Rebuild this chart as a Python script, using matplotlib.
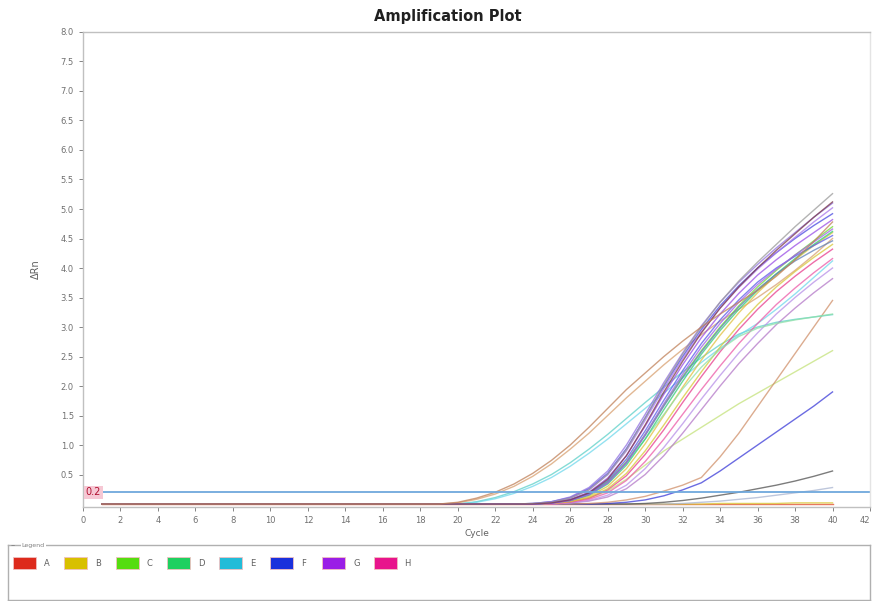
import matplotlib.pyplot as plt
from matplotlib.patches import Rectangle

# cycles 1..19 are flat for every well; curves below hold cycles 20..40
baseline = [0.0, 0.0, 0.0, 0.0, 0.0, 0.0, 0.0, 0.0, 0.0, 0.0,
            0.0, 0.0, 0.0, 0.0, 0.0, 0.0, 0.0, 0.0, 0.0]
cycles = list(range(1, 41))
threshold = 0.2

row_names = ['A', 'B', 'C', 'D', 'E', 'F', 'G', 'H']
row_colors = ['#dd2a1c', '#d8c000', '#55dd10', '#1fd060', '#22bcd8', '#1a30dc', '#9a1ee6', '#e8148c']

# early risers (tan / cyan)
tan_1 = [0.03, 0.1, 0.2, 0.34, 0.52, 0.74, 1.0, 1.3, 1.62, 1.94, 2.22, 2.5, 2.76, 3.0, 3.22, 3.42, 3.62, 3.86, 4.14, 4.45, 4.78]
tan_2 = [0.02, 0.08, 0.17, 0.3, 0.47, 0.68, 0.93, 1.2, 1.5, 1.8, 2.08, 2.36, 2.62, 2.87, 3.1, 3.3, 3.5, 3.72, 3.96, 4.22, 4.5]
cyan_1 = [0.0, 0.04, 0.11, 0.21, 0.34, 0.5, 0.7, 0.93, 1.18, 1.45, 1.72, 1.98, 2.24, 2.48, 2.7, 2.88, 3.0, 3.08, 3.13, 3.17, 3.21]
cyan_2 = [0.0, 0.03, 0.09, 0.18, 0.3, 0.45, 0.64, 0.86, 1.1, 1.36, 1.62, 1.88, 2.14, 2.4, 2.64, 2.86, 3.06, 3.3, 3.56, 3.84, 4.12]

# main bundle
purple_1 = [0, 0, 0, 0, 0.01, 0.04, 0.12, 0.28, 0.56, 1.0, 1.52, 2.06, 2.56, 3.02, 3.42, 3.76, 4.06, 4.34, 4.6, 4.86, 5.1]
purple_2 = [0, 0, 0, 0, 0, 0.03, 0.1, 0.24, 0.5, 0.9, 1.42, 1.96, 2.46, 2.92, 3.32, 3.67, 3.98, 4.26, 4.52, 4.78, 5.02]
purple_3 = [0, 0, 0, 0, 0, 0.02, 0.08, 0.2, 0.44, 0.82, 1.32, 1.86, 2.36, 2.82, 3.22, 3.57, 3.88, 4.14, 4.38, 4.6, 4.82]
purple_4 = [0, 0, 0, 0, 0, 0.01, 0.06, 0.16, 0.36, 0.7, 1.18, 1.7, 2.2, 2.66, 3.06, 3.42, 3.72, 3.98, 4.22, 4.44, 4.66]
blue_1 = [0, 0, 0, 0, 0.01, 0.04, 0.11, 0.26, 0.52, 0.94, 1.46, 2.0, 2.5, 2.96, 3.36, 3.7, 4.0, 4.26, 4.5, 4.72, 4.92]
blue_2 = [0, 0, 0, 0, 0, 0.02, 0.07, 0.18, 0.4, 0.76, 1.24, 1.76, 2.26, 2.72, 3.12, 3.46, 3.76, 4.0, 4.2, 4.38, 4.55]
green_1 = [0, 0, 0, 0, 0, 0.02, 0.07, 0.17, 0.38, 0.72, 1.18, 1.68, 2.16, 2.6, 3.0, 3.36, 3.68, 3.96, 4.22, 4.46, 4.7]
green_2 = [0, 0, 0, 0, 0, 0.02, 0.06, 0.15, 0.34, 0.66, 1.1, 1.6, 2.08, 2.54, 2.94, 3.3, 3.62, 3.9, 4.16, 4.4, 4.62]
green_flat = [0, 0, 0, 0, 0, 0.02, 0.07, 0.18, 0.38, 0.7, 1.1, 1.52, 1.95, 2.32, 2.62, 2.84, 2.98, 3.06, 3.12, 3.17, 3.22]
yellow_1 = [0, 0, 0, 0, 0, 0.01, 0.05, 0.13, 0.3, 0.6, 1.02, 1.5, 1.98, 2.44, 2.86, 3.24, 3.58, 3.88, 4.14, 4.38, 4.6]
yellow_2 = [0, 0, 0, 0, 0, 0.01, 0.04, 0.11, 0.26, 0.52, 0.9, 1.34, 1.8, 2.24, 2.66, 3.04, 3.38, 3.68, 3.94, 4.18, 4.4]
pink_1 = [0, 0, 0, 0, 0, 0.01, 0.04, 0.1, 0.24, 0.48, 0.84, 1.26, 1.72, 2.16, 2.58, 2.96, 3.3, 3.6, 3.86, 4.1, 4.32]
pink_2 = [0, 0, 0, 0, 0, 0, 0.03, 0.08, 0.19, 0.4, 0.72, 1.1, 1.52, 1.94, 2.34, 2.72, 3.06, 3.38, 3.66, 3.92, 4.16]
lilac = [0, 0, 0, 0, 0, 0, 0.02, 0.06, 0.15, 0.32, 0.6, 0.96, 1.36, 1.78, 2.18, 2.56, 2.9, 3.22, 3.5, 3.76, 4.0]
mauve = [0, 0, 0, 0, 0, 0, 0.02, 0.05, 0.12, 0.26, 0.5, 0.82, 1.2, 1.6, 2.0, 2.38, 2.72, 3.04, 3.32, 3.58, 3.82]
dark_red = [0, 0, 0, 0, 0, 0.02, 0.07, 0.19, 0.42, 0.82, 1.34, 1.9, 2.42, 2.9, 3.32, 3.68, 4.0, 4.3, 4.58, 4.86, 5.12]
grey_top = [0, 0, 0, 0, 0.01, 0.03, 0.1, 0.24, 0.5, 0.92, 1.46, 2.02, 2.54, 3.0, 3.42, 3.78, 4.1, 4.4, 4.7, 4.98, 5.26]
steel = [0, 0, 0, 0, 0, 0.02, 0.06, 0.16, 0.36, 0.7, 1.16, 1.66, 2.14, 2.58, 2.98, 3.34, 3.64, 3.9, 4.12, 4.3, 4.46]

# late / weak wells
tan_late = [0, 0, 0, 0, 0, 0, 0, 0.01, 0.03, 0.07, 0.13, 0.22, 0.32, 0.45, 0.8, 1.2, 1.65, 2.1, 2.55, 3.0, 3.45]
lime_late = [0, 0, 0, 0, 0, 0.01, 0.04, 0.1, 0.22, 0.42, 0.66, 0.9, 1.1, 1.3, 1.5, 1.7, 1.88, 2.06, 2.24, 2.42, 2.6]
blue_late = [0, 0, 0, 0, 0, 0, 0, 0, 0.01, 0.03, 0.07, 0.14, 0.24, 0.36, 0.56, 0.78, 1.0, 1.22, 1.44, 1.66, 1.9]
dark_late = [0, 0, 0, 0, 0, 0, 0, 0, 0, 0, 0.01, 0.03, 0.06, 0.1, 0.15, 0.2, 0.26, 0.32, 0.39, 0.47, 0.56]
pale_late = [0, 0, 0, 0, 0, 0, 0, 0, 0, 0, 0, 0, 0.01, 0.03, 0.05, 0.08, 0.11, 0.15, 0.19, 0.23, 0.28]
flat_red = [0, 0, 0, 0, 0, 0, 0, 0, 0, 0, 0, 0, 0, 0, 0, 0, 0, 0, 0, 0, 0]
flat_yellow = [0, 0, 0, 0, 0, 0, 0, 0, 0, 0, 0, 0, 0, 0, 0.01, 0.01, 0.01, 0.01, 0.02, 0.02, 0.02]

curves = [
    (flat_red, '#e04a2a'), (flat_yellow, '#d8c630'),
    (pale_late, '#a8b4d0'), (dark_late, '#505050'), (blue_late, '#3a3ad8'),
    (lime_late, '#c4e27a'), (tan_late, '#d0906a'),
    (tan_2, '#d8a070'), (cyan_1, '#5cd0c8'), (cyan_2, '#70d8ec'),
    (mauve, '#b478c8'), (lilac, '#b890e8'), (pink_2, '#ec5aa8'), (pink_1, '#e83c8c'),
    (yellow_2, '#d8c838'), (yellow_1, '#e0c040'), (green_flat, '#8ee0a8'),
    (green_2, '#30cc74'), (green_1, '#70dc30'), (steel, '#6080b8'),
    (blue_2, '#5a5ae8'), (blue_1, '#4848e0'), (purple_4, '#a060e8'),
    (purple_3, '#9a4ee6'), (purple_2, '#a878ec'), (purple_1, '#9070e0'),
    (grey_top, '#9a9a9a'), (dark_red, '#7a3a48'), (tan_1, '#c08058'),
]


def draw_legend(fig):
    lax = fig.add_axes([0.009, 0.002, 0.989, 0.092])
    lax.set_xlim(8, 870)
    lax.set_ylim(600, 545)
    lax.set_xticks([])
    lax.set_yticks([])
    for side in lax.spines.values():
        side.set_color('#b0b0b0')
        side.set_linewidth(1.0)
    lax.text(11, 546, '–', fontsize=6, color='#808080', va='center')
    lax.text(22, 546, 'Legend', fontsize=4.5, color='#808080', va='center',
             bbox=dict(facecolor='white', edgecolor='none', pad=0.5))
    for i, (name, col) in enumerate(zip(row_names, row_colors)):
        x0 = 13 + i * 51.5
        lax.add_patch(Rectangle((x0, 557), 23, 12, facecolor=col, edgecolor='#f0c0c0', lw=0.6))
        lax.text(x0 + 31, 563.5, name, fontsize=6, color='#606060', va='center')


def main():
    fig = plt.figure(figsize=(8.72, 6.01), dpi=100)
    ax = fig.add_axes([0.0952, 0.1564, 0.9025, 0.7904])

    for vals, col in curves:
        ax.plot(cycles, baseline + vals, color=col, lw=1.0, alpha=0.75)

    ax.axhline(threshold, color='#6fa8dc', lw=1.3)
    ax.text(0.15, threshold, f'{threshold}', fontsize=7, color='#b01030', va='center',
            bbox=dict(facecolor='#f6c8d4', edgecolor='none', pad=1.0))

    ax.set_xlim(0, 42)
    ax.set_ylim(-0.05, 8.0)
    ax.set_xticks(range(0, 43, 2))
    ax.set_yticks([0.5, 1.0, 1.5, 2.0, 2.5, 3.0, 3.5, 4.0, 4.5, 5.0, 5.5, 6.0, 6.5, 7.0, 7.5, 8.0])
    ax.set_yticklabels([f'{v:.1f}' for v in ax.get_yticks()])
    ax.tick_params(labelsize=6, colors='#707070', length=3, width=0.6)
    # last cycle label sits at the figure edge, keep it inside
    ax.get_xticklabels()[-1].set_horizontalalignment('right')
    for side in ax.spines.values():
        side.set_color('#c0c0c0')
        side.set_linewidth(1.0)
    ax.spines['right'].set_color('#e4e4e4')

    ax.set_xlabel('Cycle', fontsize=6.5, color='#606060', labelpad=3)
    ax.set_ylabel('ΔRn', fontsize=7, color='#606060', labelpad=14)
    fig.text(0.513, 0.972, 'Amplification Plot', fontsize=10.5, fontweight='bold',
             ha='center', va='center', color='#202020')

    draw_legend(fig)
    fig.savefig('out.png', dpi=100)


main()
